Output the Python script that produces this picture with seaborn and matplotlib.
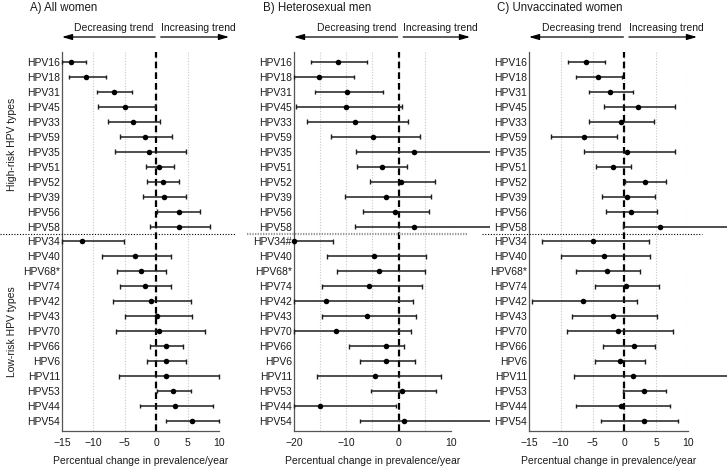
import matplotlib
matplotlib.use("Agg")
import matplotlib.pyplot as plt
import matplotlib.transforms as mtransforms
from matplotlib.ticker import MultipleLocator
import seaborn as sns
import numpy as np
import pandas as pd

# HPV types, top to bottom
hr_types = ["HPV16", "HPV18", "HPV31", "HPV45", "HPV33", "HPV59", "HPV35",
            "HPV51", "HPV52", "HPV39", "HPV56", "HPV58"]
lr_types = ["HPV34", "HPV40", "HPV68*", "HPV74", "HPV42", "HPV43", "HPV70",
            "HPV66", "HPV6", "HPV11", "HPV53", "HPV44", "HPV54"]
lr_types_men = ["HPV34#"] + lr_types[1:]

# A) All women: estimate and 95% CI (percent change / year)
women_est = [-13.5, -11.1, -6.7, -4.9, -3.65, -1.8, -1.1, 0.5, 1.05, 1.2, 3.6, 3.7,
             -11.8, -3.3, -2.5, -1.85, -0.9, 0.15, 0.4, 1.6, 1.6, 1.6, 2.7, 3.0, 5.7]
women_lo = [-15.0, -13.9, -9.4, -9.3, -7.7, -5.8, -6.6, -1.7, -1.4, -2.1, 0.15, -0.95,
            -15.0, -8.7, -6.3, -5.8, -6.8, -5.0, -6.4, -1.0, -1.4, -5.9, 0.1, -2.6, 1.6]
women_hi = [-11.1, -8.05, -3.9, -0.25, 0.6, 2.5, 4.8, 2.8, 3.6, 4.8, 7.0, 8.6,
            -5.1, 2.4, 1.5, 2.4, 5.5, 5.7, 7.8, 4.3, 4.8, 9.95, 5.5, 9.0, 10.0]

# B) Heterosexual men
men_est = [-11.6, -15.3, -9.8, -10.1, -8.4, -4.85, 3.0, -3.2, 0.5, -2.4, -0.7, 3.0,
           -20.0, -4.7, -3.8, -5.6, -13.9, -6.1, -12.0, -2.5, -2.4, -4.6, 0.7, -15.0, 1.1]
men_lo = [-16.8, -20.0, -15.9, -19.7, -17.5, -12.9, -8.2, -7.9, -5.55, -10.3, -6.8, -8.4,
          -20.0, -13.7, -11.8, -14.7, -20.0, -14.7, -20.0, -9.4, -7.3, -15.6, -5.2, -20.0, -7.3]
men_hi = [-6.0, -8.55, -3.0, 0.7, 1.8, 4.0, 17.4, 1.65, 6.9, 6.1, 5.8, 17.4,
          -12.6, 5.3, 5.0, 4.4, 2.7, 3.25, 2.4, 1.0, 3.1, 8.0, 7.2, -0.45, 17.4]

# C) Unvaccinated women
unvac_est = [-6.05, -4.1, -2.2, 2.2, -0.6, -6.4, 0.45, -1.8, 3.3, 0.45, 1.1, 5.6,
             -4.9, -3.2, -2.7, 0.25, -6.5, -1.8, -1.05, 1.5, -0.7, 1.4, 3.1, -0.5, 3.05]
unvac_lo = [-8.9, -7.6, -5.5, -3.2, -5.6, -11.5, -6.3, -4.5, 0.15, -3.6, -2.95, -0.2,
            -12.9, -9.9, -7.6, -4.7, -14.5, -8.3, -9.1, -3.3, -4.6, -7.9, -0.2, -7.6, -3.7]
unvac_hi = [-3.1, -0.4, 1.4, 7.9, 4.6, -1.1, 7.9, 1.0, 6.5, 4.8, 5.2, 17.0,
            3.9, 4.0, 2.4, 5.5, 2.05, 5.2, 7.7, 4.8, 3.2, 17.0, 6.6, 7.2, 8.5]

sns.set_theme(style="white")
plt.rcParams["font.family"] = ["Liberation Sans", "DejaVu Sans"]
plt.rcParams["font.size"] = 7.5

W, H = 727, 468
fig = plt.figure(figsize=(W / 100, H / 100), dpi=100)

panels = [
    dict(title="A) All women", est=women_est, lo=women_lo, hi=women_hi,
         labels=hr_types + lr_types, xlim=(-15, 10), ticks=[-15, -10, -5, 0, 5, 10],
         left=62, right=219, title_x=30, sep=(0, 235), sep_style=("black", 0.8, (0, (1, 1.5))),
         arrow_end=229),
    dict(title="B) Heterosexual men", est=men_est, lo=men_lo, hi=men_hi,
         labels=hr_types + lr_types_men, xlim=(-20, 10), ticks=[-20, -10, 0, 10],
         left=294, right=451, title_x=263, sep=(247, 467), sep_style=("#999999", 1.6, (0, (0.6, 0.6))),
         arrow_end=470),
    dict(title="C) Unvaccinated women", est=unvac_est, lo=unvac_lo, hi=unvac_hi,
         labels=hr_types + lr_types, xlim=(-15, 10), ticks=[-15, -10, -5, 0, 5, 10],
         left=529, right=688, title_x=497, sep=(482, 702), sep_style=("black", 0.8, (0, (1, 1.5))),
         arrow_end=697),
]

top_px, bot_px = 52, 431
bar_color = "#1e1e1e"

for i, p in enumerate(panels):
    ax = fig.add_axes([p["left"] / W, 1 - bot_px / H,
                       (p["right"] - p["left"]) / W, (bot_px - top_px) / H])
    xmin, xmax = p["xlim"]
    df = pd.DataFrame({"type": p["labels"], "est": p["est"],
                       "lo": p["lo"], "hi": p["hi"]})
    df["pos"] = np.arange(len(df))

    # grid and zero line
    ax.set_xlim(xmin, xmax)
    ax.set_ylim(len(df) - 0.33, -0.67)
    ax.set_xticks(p["ticks"])
    ax.xaxis.set_minor_locator(MultipleLocator(5))
    ax.grid(axis="x", which="both", color="#c8c8c8", ls=(0, (1, 1.5)), lw=0.8)
    ax.grid(axis="y", visible=False)
    ax.axvline(0, color="black", ls=(0, (3, 1.8)), lw=1.6, zorder=2)

    # confidence intervals
    ax.hlines(df["pos"], np.maximum(df["lo"], xmin), df["hi"], color=bar_color,
              lw=1.1, zorder=3, clip_on=False)
    lo_in = df[df["lo"] >= xmin]
    hi_in = df[df["hi"] <= xmax]
    ax.vlines(lo_in["lo"], lo_in["pos"] - 0.16, lo_in["pos"] + 0.16,
              color=bar_color, lw=1.0, zorder=3, clip_on=False)
    ax.vlines(hi_in["hi"], hi_in["pos"] - 0.16, hi_in["pos"] + 0.16,
              color=bar_color, lw=1.0, zorder=3, clip_on=False)
    sns.scatterplot(data=df, x="est", y="pos", color="black", s=16, linewidth=0,
                    zorder=4, clip_on=False, legend=False, ax=ax)

    ax.set_yticks(df["pos"])
    ax.set_yticklabels(df["type"], fontsize=7.5, color="#1a1a1a")
    ax.tick_params(axis="y", length=0, pad=1.5)
    ax.tick_params(axis="x", which="both", length=0, pad=5, labelsize=7.5,
                   labelcolor="#1a1a1a")
    ax.set_ylabel("")
    ax.set_xlabel("Percentual change in prevalence/year", fontsize=7.5,
                  color="#1a1a1a", labelpad=6)
    for s in ["top", "right"]:
        ax.spines[s].set_visible(False)
    for s in ["left", "bottom"]:
        ax.spines[s].set_color("#555555")
        ax.spines[s].set_linewidth(0.9)

    # separator between high-risk and low-risk types
    sep_y = len(hr_types) - 0.5
    trans = mtransforms.blended_transform_factory(fig.transFigure, ax.transData)
    c, lw, ls = p["sep_style"]
    ax.plot([p["sep"][0] / W, p["sep"][1] / W], [sep_y, sep_y], transform=trans,
            color=c, lw=lw, ls=ls, clip_on=False, zorder=5)

    # panel title
    fig.text(p["title_x"] / W, 1 - 8 / H, p["title"], fontsize=8.3,
             ha="left", va="center", color="#1a1a1a")

    # trend arrows
    per_px = (xmax - xmin) / (p["right"] - p["left"])
    y_arrow = 1 - 37 / H
    y_text = 1 - 28 / H
    ax.annotate("Decreasing trend", xy=(-2.5 * per_px, y_text),
                xycoords=("data", "figure fraction"), ha="right", va="center",
                fontsize=7.5, color="#1a1a1a", annotation_clip=False)
    ax.annotate("Increasing trend", xy=(4.5 * per_px, y_text),
                xycoords=("data", "figure fraction"), ha="left", va="center",
                fontsize=7.5, color="#1a1a1a", annotation_clip=False)
    aprops = dict(arrowstyle="-|>,head_length=0.75,head_width=0.22", color="black",
                  lw=0.9, shrinkA=0, shrinkB=0, mutation_scale=8)
    ax.annotate("", xy=(0, y_arrow), xycoords=("axes fraction", "figure fraction"),
                xytext=(-1.0 * per_px, y_arrow), textcoords=("data", "figure fraction"),
                arrowprops=aprops, annotation_clip=False)
    ax.annotate("", xy=(p["arrow_end"] / W, y_arrow), xycoords="figure fraction",
                xytext=(4.5 * per_px, y_arrow), textcoords=("data", "figure fraction"),
                arrowprops=aprops, annotation_clip=False)

    if i == 0:
        ax.annotate("High-risk HPV types", xy=(12 / W, (len(hr_types) - 1) / 2),
                    xycoords=("figure fraction", "data"), rotation=90,
                    ha="center", va="center", fontsize=7.5, color="#1a1a1a",
                    annotation_clip=False)
        ax.annotate("Low-risk HPV types",
                    xy=(12 / W, len(hr_types) + (len(lr_types) - 1) / 2),
                    xycoords=("figure fraction", "data"), rotation=90,
                    ha="center", va="center", fontsize=7.5, color="#1a1a1a",
                    annotation_clip=False)

fig.savefig("out.png", dpi=100)
